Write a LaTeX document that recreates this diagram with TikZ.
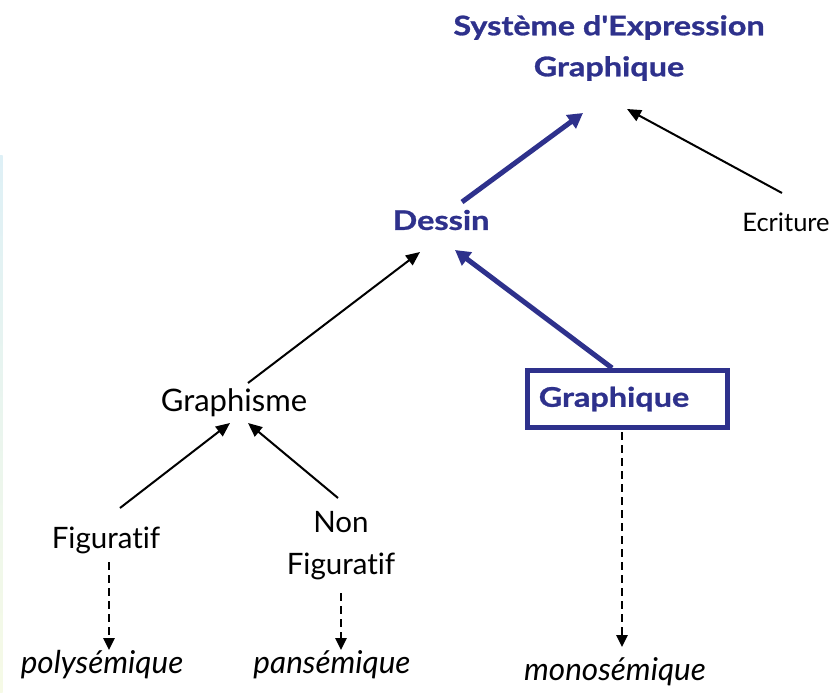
\documentclass[tikz,border=0pt]{standalone}
\usepackage{fontspec}
\setmainfont{Lato}[Ligatures=NoCommon]
\newfontfamily\headfont{Lato}[Ligatures=NoCommon, FakeStretch=1.2, FakeBold=1]
\usetikzlibrary{arrows.meta,calc}
\definecolor{navy}{RGB}{46,49,140}
\definecolor{edgeblue}{RGB}{222,240,246}
\definecolor{edgecream}{RGB}{246,250,230}
\begin{document}
\begin{tikzpicture}[x=1pt,y=-1pt,
  lbl/.style={inner sep=0pt, text=black, font=\fontsize{29.5}{42}\selectfont},
  hd/.style={inner sep=0pt, text=navy, font=\headfont\fontsize{27}{41}\selectfont\bfseries},
  res/.style={inner sep=0pt, text=black, font=\fontsize{31.5}{36}\selectfont\itshape},
  box/.style={draw=navy, line width=5pt, minimum width=200pt, minimum height=57pt, inner sep=0pt},
  thinarrow/.style={draw=black, line width=2pt, -{Triangle[length=14pt,width=12pt]}},
  thickarrow/.style={draw=navy, line width=5pt, -{Triangle[length=15pt,width=16pt]}},
  dashline/.style={draw=black, line width=2.5pt, dash pattern=on 8pt off 5pt, -{Triangle[length=12pt,width=11pt]}}
]
\useasboundingbox (0,0) rectangle (833,693);
\fill[white] (0,0) rectangle (833,693);
% faint edge strip on the left
\shade[top color=edgeblue, bottom color=edgecream] (0,155) rectangle (2.5,693);

% nodes
\node[hd, align=center] (sys) at (609,48) {Système d'Expression\\Graphique};
\node[hd] (dessin) at (441,220) {Dessin};
\node[lbl, font=\fontsize{25.5}{30}\selectfont] (ecr) at (786,222) {Ecriture};
\node[lbl, font=\fontsize{31}{36}\selectfont] (graphisme) at (234,403) {Graphisme};
\node[box] (graphique) at (627.5,399) {};
\node[hd] (graphiqueLbl) at (614,399) {Graphique};
\node[lbl] (fig) at (106,540) {Figuratif};
\node[lbl, align=center] (nonfig) at (341,546) {Non\\Figuratif};
\node[res] (poly) at (102,665) {polysémique};
\node[res] (pan) at (332,665) {pansémique};
\node[res] (mono) at (615,672) {monosémique};

% connectors
\draw[thickarrow] ($(dessin.center)+(21,-18)$) -- ($(sys.center)+(-26,65)$);
\draw[thinarrow] ($(ecr.center)+(-4,-29)$) -- ($(sys.center)+(18,61)$);
\draw[thinarrow] ($(graphisme.center)+(14,-20)$) -- ($(dessin.center)+(-21,32)$);
\draw[thickarrow] ($(graphique.center)+(-15.5,-31)$) -- ($(dessin.center)+(14,30)$);
\draw[thinarrow] ($(fig.center)+(14,-32)$) -- ($(graphisme.center)+(-4,20)$);
\draw[thinarrow] ($(nonfig.center)+(-3,-48)$) -- ($(graphisme.center)+(14,20)$);

\draw[dashline] ($(fig.center)+(3,22)$) -- ($(poly.center)+(7,-15)$);
\draw[dashline] ($(nonfig.center)+(0,47)$) -- ($(pan.center)+(9,-15)$);
\draw[dashline] ($(graphique.center)+(-5.5,33)$) -- ($(mono.center)+(7,-25)$);
\end{tikzpicture}
\end{document}
